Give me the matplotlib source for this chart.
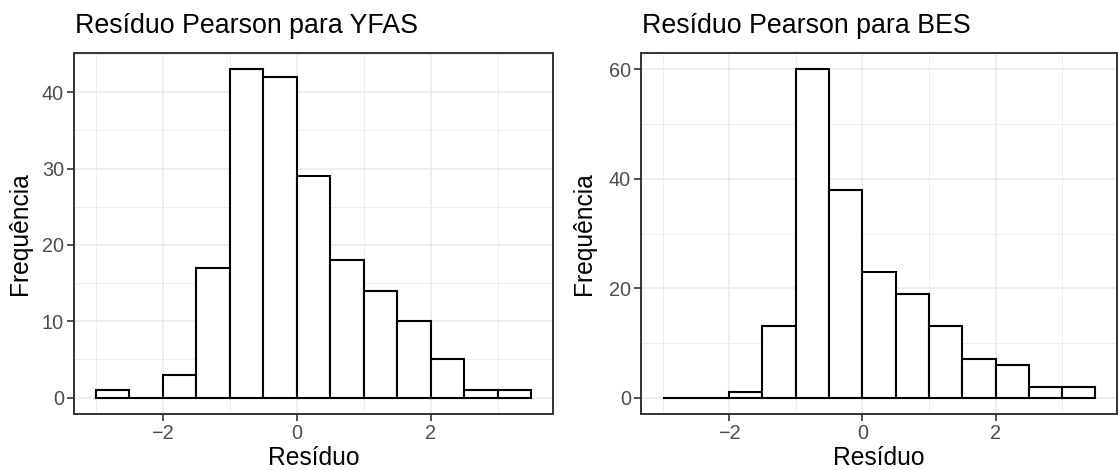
import numpy as np
import matplotlib.pyplot as plt
from matplotlib.ticker import MultipleLocator

plt.rcParams["font.family"] = ["Liberation Sans", "DejaVu Sans"]

# bin edges shared by both histograms (width 0.5)
bin_edges = [-3.0, -2.5, -2.0, -1.5, -1.0, -0.5, 0.0, 0.5, 1.0, 1.5, 2.0, 2.5, 3.0, 3.5]
yfas_counts = [1, 0, 3, 17, 43, 42, 29, 18, 14, 10, 5, 1, 1]
bes_counts = [0, 0, 1, 13, 60, 38, 23, 19, 13, 7, 6, 2, 2]

titles = ["Resíduo Pearson para YFAS", "Resíduo Pearson para BES"]
x_label = "Resíduo"
y_label = "Frequência"

GRAY20 = "#333333"
TICK_GRAY = "#4D4D4D"
GRID = "#EBEBEB"

W, H = 1118, 470
fig = plt.figure(figsize=(W / 100, H / 100), dpi=100)

# pixel boxes (left, top, right, bottom) and y label right edge
panels = [
    ([74, 53, 553, 414], yfas_counts, 10, 32),
    ([641, 53, 1117, 414], bes_counts, 20, 596),
]


def style_axes(ax, major_y):
    ax.set_facecolor("white")
    ax.xaxis.set_major_locator(MultipleLocator(2))
    ax.xaxis.set_minor_locator(MultipleLocator(1))
    ax.yaxis.set_major_locator(MultipleLocator(major_y))
    ax.yaxis.set_minor_locator(MultipleLocator(major_y / 2))
    ax.grid(which="major", color=GRID, lw=1.2)
    ax.grid(which="minor", color=GRID, lw=0.6)
    ax.set_axisbelow(True)
    for s in ax.spines.values():
        s.set_color(GRAY20)
        s.set_linewidth(1.4)
    ax.tick_params(which="major", length=4.8, width=1.2, color=GRAY20,
                   labelsize=14.3, labelcolor=TICK_GRAY, pad=2.5)
    ax.tick_params(which="minor", length=0)


for (box, counts, major_y, ylab_x), title in zip(panels, titles):
    x0, y0, x1, y1 = box
    ax = fig.add_axes([x0 / W, 1 - y1 / H, (x1 - x0) / W, (y1 - y0) / H])
    edges = np.array(bin_edges)
    widths = np.diff(edges)
    ax.bar(edges[:-1], counts, width=widths, align="edge", facecolor="white",
           edgecolor="black", linewidth=1.5, zorder=3)
    span = edges[-1] - edges[0]
    ax.set_xlim(edges[0] - 0.05 * span, edges[-1] + 0.05 * span)
    ymax = max(counts)
    ax.set_ylim(-0.05 * ymax, ymax * 1.05)
    style_axes(ax, major_y)
    ax.set_xlabel(x_label, fontsize=17.7, labelpad=2)
    ax.set_ylabel(y_label, fontsize=17.7)
    ax.yaxis.set_label_coords((ylab_x - x0) / (x1 - x0), 0.5)
    fig.text((x0 + 1) / W, 1 - 33 / H, title, fontsize=19.3,
             ha="left", va="baseline")

fig.savefig("out.png", dpi=100, facecolor="white")
